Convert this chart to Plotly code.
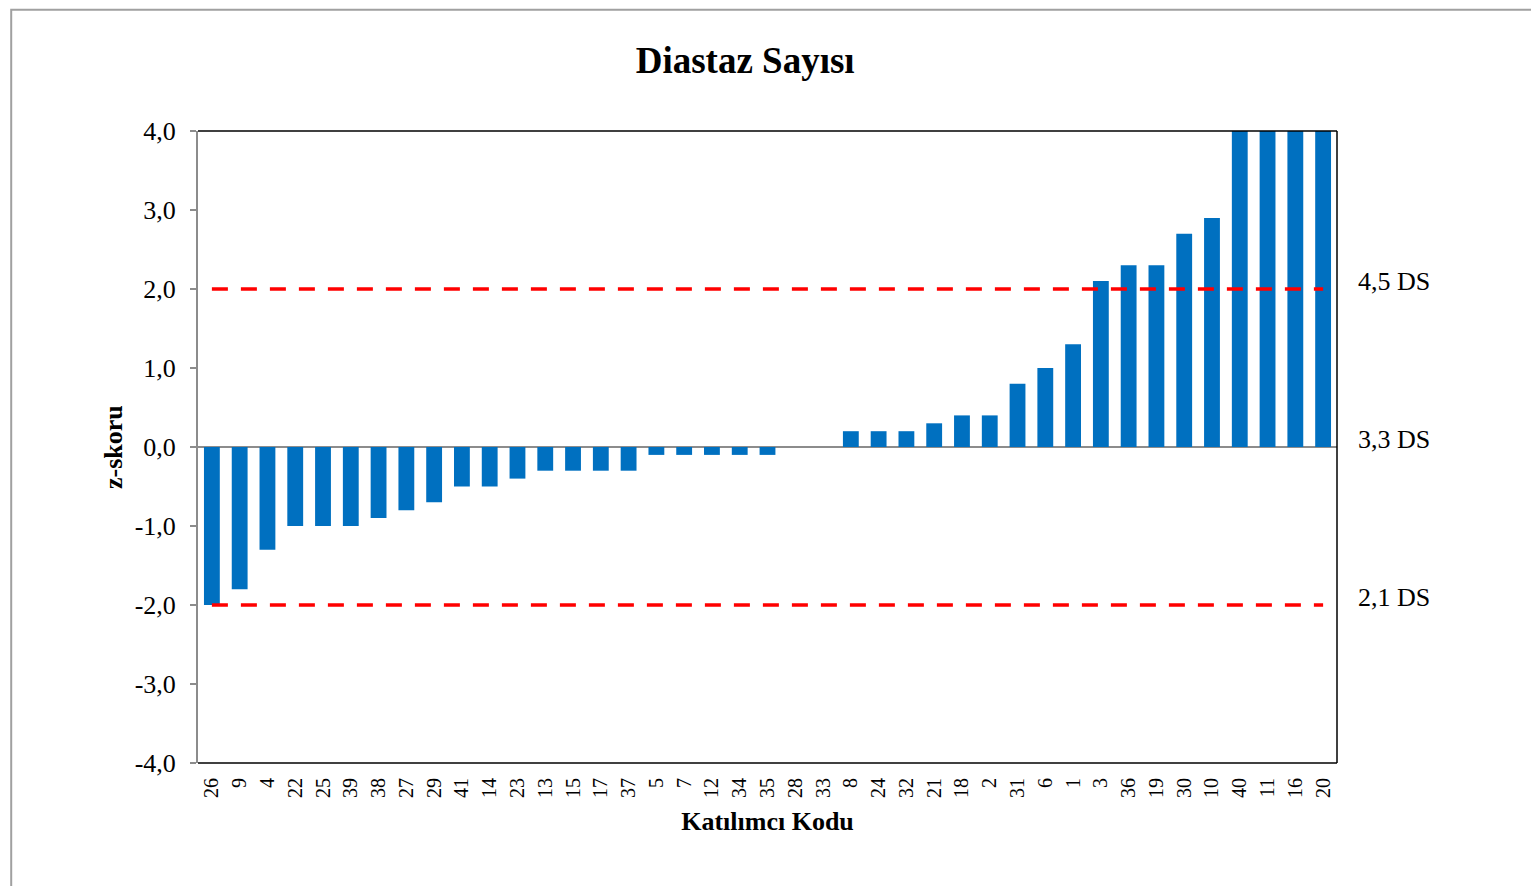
import plotly.graph_objects as go

codes = ["26", "9", "4", "22", "25", "39", "38", "27", "29", "41", "14", "23", "13", "15",
         "17", "37", "5", "7", "12", "34", "35", "28", "33", "8", "24", "32", "21", "18",
         "2", "31", "6", "1", "3", "36", "19", "30", "10", "40", "11", "16", "20"]
z_scores = [-2.0, -1.8, -1.3, -1.0, -1.0, -1.0, -0.9, -0.8, -0.7, -0.5, -0.5, -0.4, -0.3, -0.3,
            -0.3, -0.3, -0.1, -0.1, -0.1, -0.1, -0.1, 0.0, 0.0, 0.2, 0.2, 0.2, 0.3, 0.4,
            0.4, 0.8, 1.0, 1.3, 2.1, 2.3, 2.3, 2.7, 2.9, 4.0, 4.0, 4.0, 4.0]
limit_upper = 2.0
limit_lower = -2.0
y_ticks = [-4, -3, -2, -1, 0, 1, 2, 3, 4]
y_tick_text = ["-4,0", "-3,0", "-2,0", "-1,0", "0,0", "1,0", "2,0", "3,0", "4,0"]
right_labels = [("4,5 DS", 2.0), ("3,3 DS", 0.0), ("2,1 DS", -2.0)]

serif = "Liberation Serif, Times New Roman, serif"

fig = go.Figure()
fig.add_trace(go.Bar(x=codes, y=z_scores, marker=dict(color="#0070C0", line=dict(width=0)),
                     width=0.57, showlegend=False))
for lv in (limit_upper, limit_lower):
    fig.add_trace(go.Scatter(x=[codes[0], codes[-1]], y=[lv, lv], mode="lines",
                             line=dict(color="#FF0000", width=3.5, dash="16px,13px"),
                             showlegend=False, hoverinfo="skip"))

shapes = [
    # outer chart border
    dict(type="rect", xref="paper", yref="paper", x0=-0.164, x1=1.5, y0=-0.3, y1=1.192,
         line=dict(color="#A0A0A0", width=2), fillcolor="rgba(0,0,0,0)", layer="below"),
    # plot area box (top, right, bottom)
    dict(type="line", xref="paper", yref="paper", x0=0, x1=1, y0=1, y1=1,
         line=dict(color="black", width=1.5)),
    dict(type="line", xref="paper", yref="paper", x0=1, x1=1, y0=0, y1=1,
         line=dict(color="black", width=1.5)),
    dict(type="line", xref="paper", yref="paper", x0=0, x1=1, y0=0, y1=0,
         line=dict(color="black", width=1.5)),
]

annotations = [dict(text=t, x=1.05, y=v, xref="paper", yref="y", showarrow=False,
                    xanchor="center", yshift=8,
                    font=dict(family=serif, size=26, color="black"))
               for t, v in right_labels]
annotations.append(dict(text="<b>z-skoru</b>", x=-0.0746, y=0, xref="paper", yref="y",
                        showarrow=False, textangle=-90, xanchor="center", yanchor="middle",
                        font=dict(family=serif, size=26, color="black")))

fig.update_layout(
    width=1523, height=878,
    margin=dict(l=190, r=194, t=123, b=123),
    paper_bgcolor="white", plot_bgcolor="white",
    title=dict(text="<b>Diastaz Sayısı</b>", x=0.484, xanchor="center", y=0.941, yanchor="middle",
               font=dict(family=serif, size=37, color="black")),
    shapes=shapes,
    annotations=annotations,
    xaxis=dict(type="category", tickangle=-90, tickfont=dict(family=serif, size=20, color="black"),
               showgrid=False, showline=False, ticks="", ticklabelstandoff=10,
               title=dict(text="<b>Katılımcı Kodu</b>", font=dict(family=serif, size=26, color="black"),
                          standoff=14)),
    yaxis=dict(range=[-4, 4], tickvals=y_ticks, ticktext=y_tick_text,
               tickfont=dict(family=serif, size=26, color="black"),
               showgrid=False, showline=True, linecolor="#8C8C8C", linewidth=2,
               ticks="outside", ticklen=6, tickcolor="#8C8C8C", tickwidth=2,
               ticklabelstandoff=9,
               zeroline=True, zerolinecolor="#8C8C8C", zerolinewidth=2),
)

fig.write_html("out.html")
